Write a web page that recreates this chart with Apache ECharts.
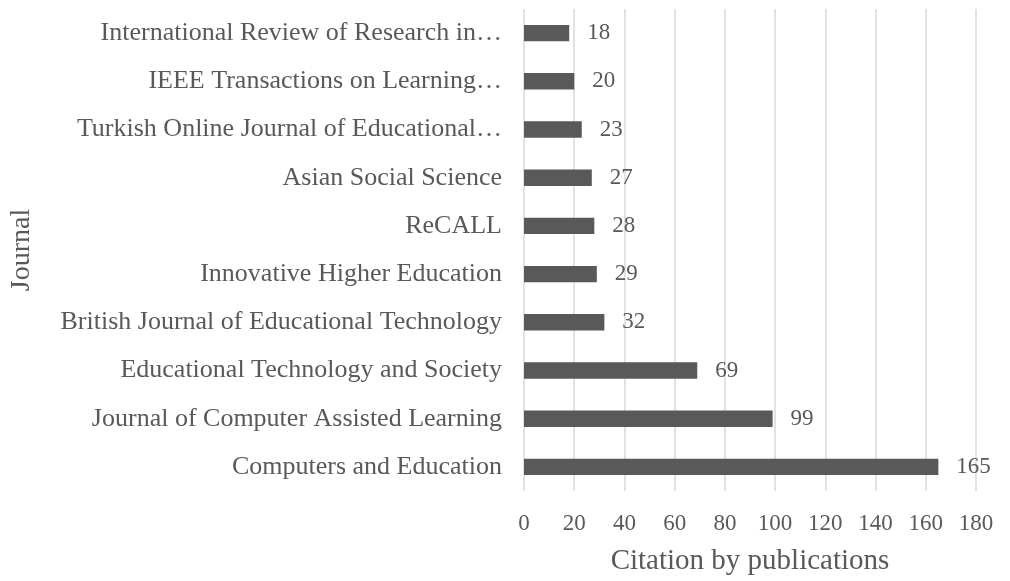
<!DOCTYPE html>
<html>
<head>
<meta charset="utf-8">
<script src="https://cdn.jsdelivr.net/npm/echarts@6/dist/echarts.min.js"></script>
<style>
  html, body { margin: 0; padding: 0; background: #fff; }
  #chart { width: 1010px; height: 581px; }
</style>
</head>
<body>
<div id="chart"></div>
<script>
  // journals, listed top to bottom as in the picture
  var journals = [
    'International Review of Research in\u2026',
    'IEEE Transactions on Learning\u2026',
    'Turkish Online Journal of Educational\u2026',
    'Asian Social Science',
    'ReCALL',
    'Innovative Higher Education',
    'British Journal of Educational Technology',
    'Educational Technology and Society',
    'Journal of Computer Assisted Learning',
    'Computers and Education'
  ];
  var citations = [18, 20, 23, 27, 28, 29, 32, 69, 99, 165];
  var xTicks = [0, 180, 20]; // min, max, interval

  var font = '"Liberation Serif", "Times New Roman", serif';
  var textColor = '#595959';

  var myChart = echarts.init(document.getElementById('chart'));
  var option = {
    animation: false,
    grid: {
      left: 524,
      right: 34,
      top: 9,
      bottom: 89
    },
    xAxis: {
      type: 'value',
      min: xTicks[0],
      max: xTicks[1],
      interval: xTicks[2],
      name: 'Citation by publications',
      nameLocation: 'middle',
      nameGap: 56,
      nameTextStyle: { color: textColor, fontFamily: font, fontSize: 29 },
      axisLine: { show: false },
      axisTick: { show: false },
      axisLabel: { color: textColor, fontFamily: font, fontSize: 23, margin: 21 },
      splitLine: { show: true, lineStyle: { color: '#d9d9d9', width: 1.5 } }
    },
    yAxis: {
      type: 'category',
      inverse: true,
      data: journals,
      name: 'Journal',
      nameLocation: 'middle',
      nameGap: 488,
      nameRotate: 90,
      nameTextStyle: { color: textColor, fontFamily: font, fontSize: 28 },
      axisLine: { show: false },
      axisTick: { show: false },
      axisLabel: { color: textColor, fontFamily: font, fontSize: 26, margin: 22 }
    },
    series: [{
      type: 'bar',
      data: citations,
      barWidth: '34%',
      itemStyle: { color: '#595959' },
      label: {
        show: true,
        position: 'right',
        distance: 18,
        color: textColor,
        fontFamily: font,
        fontSize: 23
      }
    }]
  };
  myChart.setOption(option);
</script>
</body>
</html>
